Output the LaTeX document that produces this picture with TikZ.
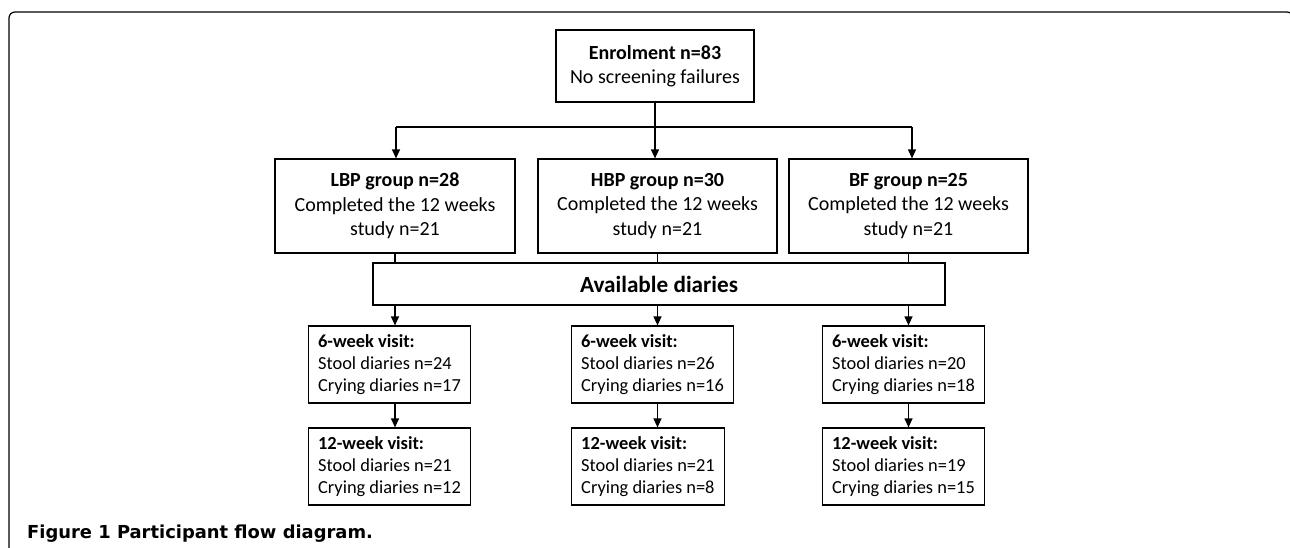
\documentclass[tikz,border=0pt]{standalone}
\usepackage{fontspec}
\setmainfont{Carlito}
\newfontfamily\capfont{DejaVu Sans}
\usetikzlibrary{arrows.meta}
\tikzset{%
	box/.style={draw, line width=1.2pt, inner sep=0pt, align=center},
	grpbox/.style={box, minimum width=239pt, minimum height=94pt,
		font=\fontsize{20}{24.5}\selectfont},
	visitbox/.style={draw, line width=1.2pt, align=left, inner xsep=10pt,
		minimum height=77pt, font=\fontsize{18.4}{22}\selectfont},
	arr/.style={line width=1.2pt, -{Triangle[width=8pt,length=9pt]}},
	ln/.style={line width=1.2pt}
}
\begin{document}
\begin{tikzpicture}[x=1pt, y=-1pt]
	\useasboundingbox (0,0) rectangle (1290,547);
	\clip (0,0) rectangle (1290,547);
	\draw [ln, rounded corners=6pt] (9,560) -- (9,12) -- (1293,12) -- (1293,560);
	\node [box, minimum width=198pt, minimum height=72pt,
		font=\fontsize{20}{24.5}\selectfont] (enrol) at (655,66)
		{\textbf{Enrolment n=83}\\No screening failures};
	\node [grpbox, minimum width=240pt] (lbp) at (395,206)
		{\textbf{LBP group n=28}\\Completed the 12 weeks\\study n=21};
	\node [grpbox] (hbp) at (657.5,206)
		{\textbf{HBP group n=30}\\Completed the 12 weeks\\study n=21};
	\node [grpbox] (bf) at (908.5,206)
		{\textbf{BF group n=25}\\Completed the 12 weeks\\study n=21};
	\node [box, minimum width=572pt, minimum height=42pt,
		font=\fontsize{23.2}{28}\selectfont\bfseries] (avail) at (659,284)
		{Available diaries};
	\node [visitbox] (lbp6) at (389.5,364.5)
		{\textbf{6-week visit:}\\Stool diaries n=24\\Crying diaries n=17};
	\node [visitbox] (lbp12) at (389.5,466.5)
		{\textbf{12-week visit:}\\Stool diaries n=21\\Crying diaries n=12};
	\node [visitbox] (hbp6) at (652.5,364.5)
		{\textbf{6-week visit:}\\Stool diaries n=26\\Crying diaries n=16};
	\node [visitbox] (hbp12) at (648,466.5)
		{\textbf{12-week visit:}\\Stool diaries n=21\\Crying diaries n=8};
	\node [visitbox] (bf6) at (903.5,364.5)
		{\textbf{6-week visit:}\\Stool diaries n=20\\Crying diaries n=18};
	\node [visitbox] (bf12) at (903.5,466.5)
		{\textbf{12-week visit:}\\Stool diaries n=19\\Crying diaries n=15};
	\node [anchor=base west, inner sep=0pt,
		font=\capfont\fontsize{17.9}{21}\bfseries\selectfont] (cap) at (27,538)
		{Figure 1 Participant flow diagram.};
	\coordinate (split) at (655,127);
	\coordinate (splitl) at (396,127);
	\coordinate (splitr) at (912,127);
	\draw [ln] (enrol.south) -- (split);
	\draw [ln] (splitl) -- (splitr);
	\draw [arr] (splitl) -- (splitl |- lbp.north);
	\draw [arr] (split) -- (split |- hbp.north);
	\draw [arr] (splitr) -- (splitr |- bf.north);
	\draw [ln] (lbp.south) -- (lbp.south |- avail.north);
	\draw [ln] (hbp.south) -- (hbp.south |- avail.north);
	\draw [ln] (bf.south) -- (bf.south |- avail.north);
	\draw [arr] (lbp.south |- avail.south) -- (lbp.south |- lbp6.north);
	\draw [arr] (hbp.south |- avail.south) -- (hbp.south |- hbp6.north);
	\draw [arr] (bf.south |- avail.south) -- (bf.south |- bf6.north);
	\draw [arr] (lbp.south |- lbp6.south) -- (lbp.south |- lbp12.north);
	\draw [arr] (hbp.south |- hbp6.south) -- (hbp.south |- hbp12.north);
	\draw [arr] (bf.south |- bf6.south) -- (bf.south |- bf12.north);
\end{tikzpicture}
\end{document}
